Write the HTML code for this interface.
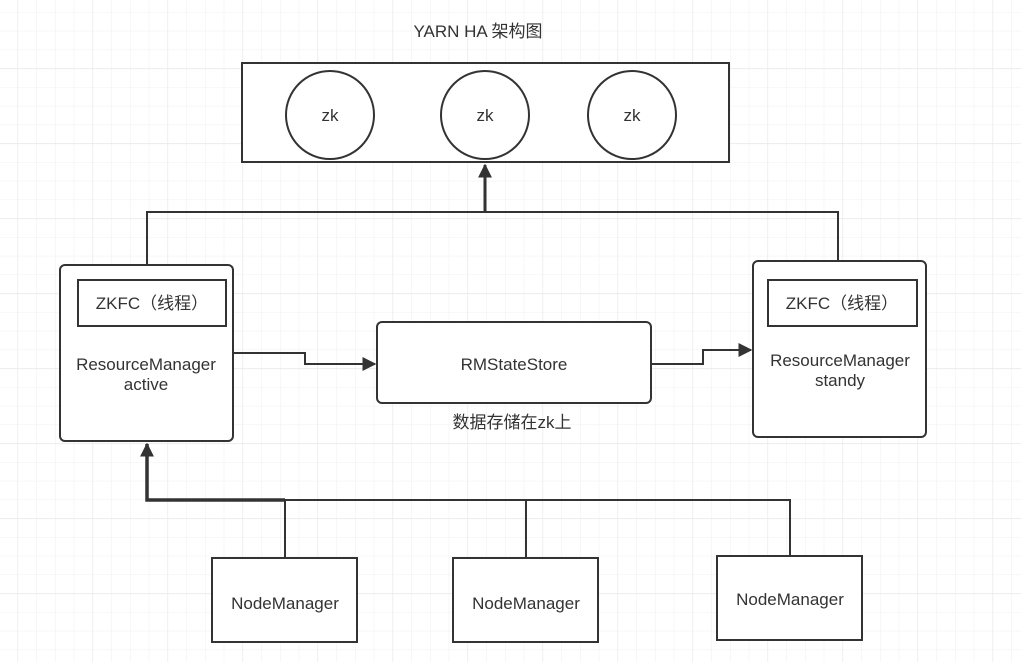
<!DOCTYPE html>
<html><head><meta charset="utf-8"><style>
html,body{margin:0;padding:0;background:#fff;}
svg{display:block}
text{font-family:"Liberation Sans","Noto Sans CJK SC",sans-serif;fill:#333;font-size:17px}
</style></head><body>
<svg width="1021" height="662" viewBox="0 0 1021 662" xmlns="http://www.w3.org/2000/svg">
<defs>
<pattern id="minor" x="17.5" y="-6.7" width="18.75" height="18.75" patternUnits="userSpaceOnUse">
<path d="M0 0V18.75M0 0H18.75" stroke="#efefef" stroke-width="1" fill="none"/>
</pattern>
<pattern id="major" x="17.5" y="-6.7" width="75" height="75" patternUnits="userSpaceOnUse">
<path d="M0 0V75M0 0H75" stroke="#e6e6e6" stroke-width="1.2" fill="none"/>
</pattern>
<marker id="arb" viewBox="0 0 10 10" markerWidth="14" markerHeight="14" refX="9" refY="5" orient="auto" markerUnits="userSpaceOnUse"><path d="M0,0L10,5L0,10z" fill="#333"/></marker>
</defs>
<rect width="1021" height="662" fill="url(#minor)"/>
<rect width="1021" height="662" fill="url(#major)"/>

<text x="478" y="37" text-anchor="middle" font-size="16">YARN HA 架构图</text>

<rect x="242" y="63" width="487" height="99" fill="#fff" stroke="#333" stroke-width="2"/>
<circle cx="330" cy="115" r="44" fill="#fff" stroke="#333" stroke-width="2"/>
<circle cx="485" cy="115" r="44" fill="#fff" stroke="#333" stroke-width="2"/>
<circle cx="632" cy="115" r="44" fill="#fff" stroke="#333" stroke-width="2"/>
<text x="330" y="121" text-anchor="middle">zk</text>
<text x="485" y="121" text-anchor="middle">zk</text>
<text x="632" y="121" text-anchor="middle">zk</text>

<path d="M147 265V212H838V262" fill="none" stroke="#333" stroke-width="2"/>
<path d="M485 212V165" fill="none" stroke="#333" stroke-width="3" marker-end="url(#arb)"/>

<rect x="60" y="265" width="173" height="176" rx="5" fill="#fff" stroke="#333" stroke-width="2"/>
<rect x="78" y="280" width="148" height="46" fill="#fff" stroke="#333" stroke-width="2"/>
<text x="152" y="309" text-anchor="middle">ZKFC（线程）</text>
<text x="146" y="370" text-anchor="middle">ResourceManager</text>
<text x="146" y="390" text-anchor="middle">active</text>

<rect x="377" y="322" width="274" height="81" rx="5" fill="#fff" stroke="#333" stroke-width="2"/>
<text x="514" y="370" text-anchor="middle">RMStateStore</text>
<text x="512" y="428" text-anchor="middle">数据存储在zk上</text>

<rect x="753" y="261" width="173" height="176" rx="5" fill="#fff" stroke="#333" stroke-width="2"/>
<rect x="768" y="280" width="149" height="46" fill="#fff" stroke="#333" stroke-width="2"/>
<text x="842" y="309" text-anchor="middle">ZKFC（线程）</text>
<text x="840" y="366" text-anchor="middle">ResourceManager</text>
<text x="840" y="386" text-anchor="middle">standy</text>

<path d="M233 353H305V364H375" fill="none" stroke="#333" stroke-width="2" marker-end="url(#arb)"/>
<path d="M651 364H703V350H751" fill="none" stroke="#333" stroke-width="2" marker-end="url(#arb)"/>

<path d="M285 558V500H790V556" fill="none" stroke="#333" stroke-width="2"/>
<path d="M526 558V500" fill="none" stroke="#333" stroke-width="2"/>
<path d="M285 500H147V444" fill="none" stroke="#333" stroke-width="3.5" marker-end="url(#arb)"/>

<rect x="212" y="558" width="145" height="84" fill="#fff" stroke="#333" stroke-width="2"/>
<rect x="453" y="558" width="145" height="84" fill="#fff" stroke="#333" stroke-width="2"/>
<rect x="717" y="556" width="145" height="84" fill="#fff" stroke="#333" stroke-width="2"/>
<text x="285" y="609" text-anchor="middle">NodeManager</text>
<text x="526" y="609" text-anchor="middle">NodeManager</text>
<text x="790" y="605" text-anchor="middle">NodeManager</text>
</svg>
</body></html>
